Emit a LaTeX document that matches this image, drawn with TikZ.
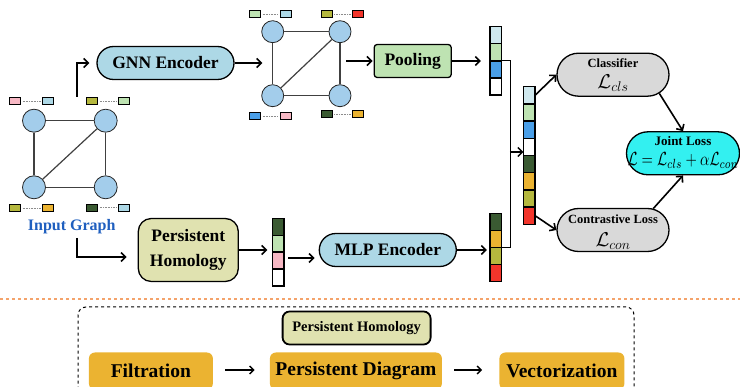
\RequirePackage{fix-cm}
\documentclass[tikz,border=0pt]{standalone}
\usepackage{fontspec}
\setmainfont{Liberation Serif}
\usetikzlibrary{arrows.meta,shapes.misc,calc}
\definecolor{vblue}{HTML}{A3CDEB}
\definecolor{cpink}{HTML}{F7B8C4}
\definecolor{clblue}{HTML}{ADD8E6}
\definecolor{colive}{HTML}{B5B83E}
\definecolor{clgreen}{HTML}{BEE3B2}
\definecolor{corange}{HTML}{EBB331}
\definecolor{cdgreen}{HTML}{3A5A32}
\definecolor{cred}{HTML}{F2352B}
\definecolor{cblue}{HTML}{4A9FE8}
\definecolor{ccyan}{HTML}{CFE8EE}
\definecolor{encblue}{HTML}{ADD8E6}
\definecolor{phyel}{HTML}{E0E2B0}
\definecolor{lgray}{HTML}{D9D9D9}
\definecolor{jcyan}{HTML}{33F0F0}
\definecolor{igblue}{HTML}{1F5FBF}
\definecolor{dorange}{HTML}{F4A36B}
\tikzset{
  vtx/.style={circle,draw=black!85,line width=0.8pt,fill=vblue,minimum size=23pt,inner sep=0pt},
  gedge/.style={line width=1.2pt,black!75},
  feat/.style={draw=black,line width=1.3pt,minimum width=11pt,minimum height=7pt,inner sep=0pt,outer sep=0pt},
  featdots/.style={densely dotted,black!45,line width=0.6pt,shorten <=2pt,shorten >=2pt},
  cell/.style={draw=black,line width=1.3pt,minimum width=11.7pt,minimum height=17.1pt,inner sep=0pt,outer sep=0pt},
  arr/.style={-{Straight Barb[length=4.5pt,width=9pt]},line width=1.6pt},
  thinline/.style={line width=0.9pt},
  pill/.style={rounded rectangle,draw=black,line width=1.3pt,inner sep=1pt},
  bigtxt/.style={font=\fontsize{17.5}{21}\selectfont\bfseries},
  smalltxt/.style={font=\fontsize{12.5}{14}\selectfont\bfseries,inner sep=0pt},
  mathtxt/.style={font=\fontsize{20}{22}\selectfont,inner sep=0pt},
  stepbox/.style={fill=corange,rounded corners=6pt,inner sep=0pt,font=\fontsize{19.5}{22}\selectfont\bfseries}
}
\begin{document}
\begin{tikzpicture}[x=1pt,y=-1pt]
\useasboundingbox (0,0) rectangle (740,387);
\clip (0,0) rectangle (740,387);

% ---------- input graph ----------
\node[vtx] (a1) at (34,120.7) {};
\node[vtx] (a2) at (105.7,120.7) {};
\node[vtx] (a3) at (34,187.3) {};
\node[vtx] (a4) at (105.7,187.3) {};
\draw[gedge] (a1) -- (a2) -- (a4) -- (a3) -- (a1);
\draw[gedge] (a2) -- (a3);
\node[feat,fill=cpink]  (fa1) at (15,101) {};
\node[feat,fill=clblue] (fa2) at (48.3,101) {};
\node[feat,fill=colive] (fa3) at (92.3,101) {};
\node[feat,fill=clgreen](fa4) at (124.3,101) {};
\node[feat,fill=colive] (fa5) at (15,208.3) {};
\node[feat,fill=corange](fa6) at (48.3,208.3) {};
\node[feat,fill=cdgreen](fa7) at (92.3,207.7) {};
\node[feat,fill=clblue] (fa8) at (124.3,207.7) {};
\draw[featdots] (fa1) -- (fa2);
\draw[featdots] (fa3) -- (fa4);
\draw[featdots] (fa5) -- (fa6);
\draw[featdots] (fa7) -- (fa8);
\node[text=igblue,font=\fontsize{16}{18}\selectfont\bfseries] (ig) at (71.7,226.5) {Input Graph};

% ---------- encoders row ----------
\node[pill,fill=encblue,minimum width=139pt,minimum height=33pt,bigtxt] (gnn) at (165.5,63) {GNN Encoder};

\node[vtx,minimum size=22pt] (b1) at (272.7,31.7) {};
\node[vtx,minimum size=22pt] (b2) at (340,31.7) {};
\node[vtx,minimum size=22pt] (b3) at (272.7,95.7) {};
\node[vtx,minimum size=22pt] (b4) at (340,95.7) {};
\draw[gedge] (b1) -- (b2) -- (b4) -- (b3) -- (b1);
\draw[gedge] (b2) -- (b3);
\node[feat,fill=clgreen](fb1) at (255,14.3) {};
\node[feat,fill=clblue] (fb2) at (285.7,14.3) {};
\node[feat,fill=colive] (fb3) at (326.7,14.3) {};
\node[feat,fill=cred]   (fb4) at (358.3,14.3) {};
\node[feat,fill=cblue]  (fb5) at (255,116) {};
\node[feat,fill=cpink]  (fb6) at (285.7,116) {};
\node[feat,fill=cdgreen](fb7) at (326.7,114.3) {};
\node[feat,fill=corange](fb8) at (358.3,114.3) {};
\draw[featdots] (fb1) -- (fb2);
\draw[featdots] (fb3) -- (fb4);
\draw[featdots] (fb5) -- (fb6);
\draw[featdots] (fb7) -- (fb8);

\node[draw=black,line width=1.3pt,fill=clgreen,rounded corners=3pt,minimum width=77pt,minimum height=33pt,inner sep=0pt,bigtxt] (pool) at (412.7,61) {Pooling};

\node[draw=black,line width=1.3pt,fill=phyel,rounded corners=13pt,minimum width=100pt,minimum height=63pt,inner sep=0pt,align=center,font=\fontsize{17.5}{25}\selectfont\bfseries] (ph) at (188.3,250) {Persistent\\Homology};
\node[pill,fill=encblue,minimum width=139pt,minimum height=33pt,bigtxt] (mlp) at (387.8,250) {MLP Encoder};

% ---------- vectors ----------
\foreach \c [count=\i] in {ccyan,clgreen,cblue,white}
  \node[cell,fill=\c] (v1-\i) at (495.8,{35.25+17.1*(\i-1)}) {};
\foreach \c [count=\i] in {cdgreen,corange,colive,cred}
  \node[cell,fill=\c] (v2-\i) at (495.8,{221.85+17.1*(\i-1)}) {};
\foreach \c [count=\i] in {cdgreen,clgreen,cpink,white}
  \node[cell,fill=\c,minimum height=16.9pt] (vp-\i) at (278.2,{226.75+16.9*(\i-1)}) {};
\foreach \c [count=\i] in {ccyan,clgreen,cblue,white,cdgreen,corange,colive,cred}
  \node[cell,fill=\c,minimum height=17.2pt] (v3-\i) at (529.2,{95.3+17.2*(\i-1)}) {};

% ---------- losses ----------
\node[pill,fill=lgray,minimum width=114pt,minimum height=43pt] (cls) at (613,74.7) {};
\node[smalltxt] (cls-t) at (613,63.5) {Classifier};
\node[mathtxt] (cls-m) at (613,83.5) {$\mathcal{L}_{cls}$};
\node[pill,fill=lgray,minimum width=114pt,minimum height=43pt] (con) at (613,230) {};
\node[smalltxt] (con-t) at (613,219.5) {Contrastive Loss};
\node[mathtxt] (con-m) at (613,241.5) {$\mathcal{L}_{con}$};
\node[pill,fill=jcyan,minimum width=115pt,minimum height=43pt] (joint) at (683,153.3) {};
\node[font=\fontsize{13}{15}\selectfont\bfseries,inner sep=0pt] (joint-t) at (683,140.8) {Joint Loss};
\node[inner sep=0pt] (joint-m) at (683,160.5) {\resizebox{111pt}{13pt}{$\mathcal{L}=\mathcal{L}_{cls}+\alpha\mathcal{L}_{con}$}};

% ---------- connectors ----------
\coordinate (igT) at (77,97);
\coordinate (igB) at (77,238);
\coordinate (phin) at ($(ph.west)+(0,7)$);
\draw[arr,shorten >=7pt] (igT) |- (gnn.west);
\draw[arr,shorten >=11pt] (igB) |- (phin);
\draw[arr,shorten >=-1pt] (gnn.east) -- (gnn.east -| b1.west);
\coordinate (g2out) at (346,61);
\draw[arr,shorten >=1pt] (g2out) -- (pool.west);
\draw[arr,shorten >=9pt] (pool.east) -- (pool.east -| v1-1.west);
\draw[arr,shorten >=5pt] (ph.east) -- (ph.east -| vp-1.west);
\coordinate (phv) at ($(vp-2.east)!0.85!(vp-3.east)$);
\draw[arr,shorten <=4pt,shorten >=4pt] (phv) -- (phv -| mlp.west);
\draw[arr,shorten >=3pt] (mlp.east) -- (mlp.east -| v2-1.west);
\draw[thinline] (v1-2.south east) -- ++(8.3,0) coordinate (jtop) |- (v2-2.south east);
\path (jtop) ++(0,91) coordinate (jn);
\draw[arr,line width=1.4pt] (jn) -- (jn -| v3-1.west);
\draw[arr] (v3-1.east) -- (cls.west);
\draw[arr] (v3-8.east) -- (con.west);
\draw[arr] (cls.-22) -- (joint.north);
\draw[arr] (con.28) -- (joint.south);

% ---------- bottom panel ----------
\draw[dorange,dashed,line width=1.1pt] (0,299) -- (740,299);
\node[draw=black,dashed,line width=1pt,rounded corners=8pt,minimum width=556pt,minimum height=96pt,inner sep=0pt] (frame) at (356,355) {};
\node[draw=black,line width=1.8pt,fill=phyel,rounded corners=7pt,minimum width=148pt,minimum height=33pt,inner sep=0pt,font=\fontsize{14.5}{16}\selectfont\bfseries] (phs) at (356.6,328) {Persistent Homology};
\node[stepbox,minimum width=124pt,minimum height=37pt] (filt) at (150.9,371) {Filtration};
\node[stepbox,minimum width=172pt,minimum height=37pt] (pd) at (355.9,371) {Persistent Diagram};
\node[stepbox,minimum width=125pt,minimum height=37pt] (vec) at (561.9,371) {Vectorization};
\coordinate (fe) at ($(filt.east)+(0,-1)$);
\coordinate (pw) at ($(pd.west)+(0,-1)$);
\coordinate (pe) at ($(pd.east)+(0,-1)$);
\coordinate (vw) at ($(vec.west)+(0,-1)$);
\draw[-{Straight Barb[length=4pt,width=8pt]},line width=1.4pt,shorten <=12pt,shorten >=15pt] (fe) -- (pw);
\draw[-{Straight Barb[length=4pt,width=8pt]},line width=1.4pt,shorten <=12pt,shorten >=17pt] (pe) -- (vw);
\end{tikzpicture}
\end{document}
